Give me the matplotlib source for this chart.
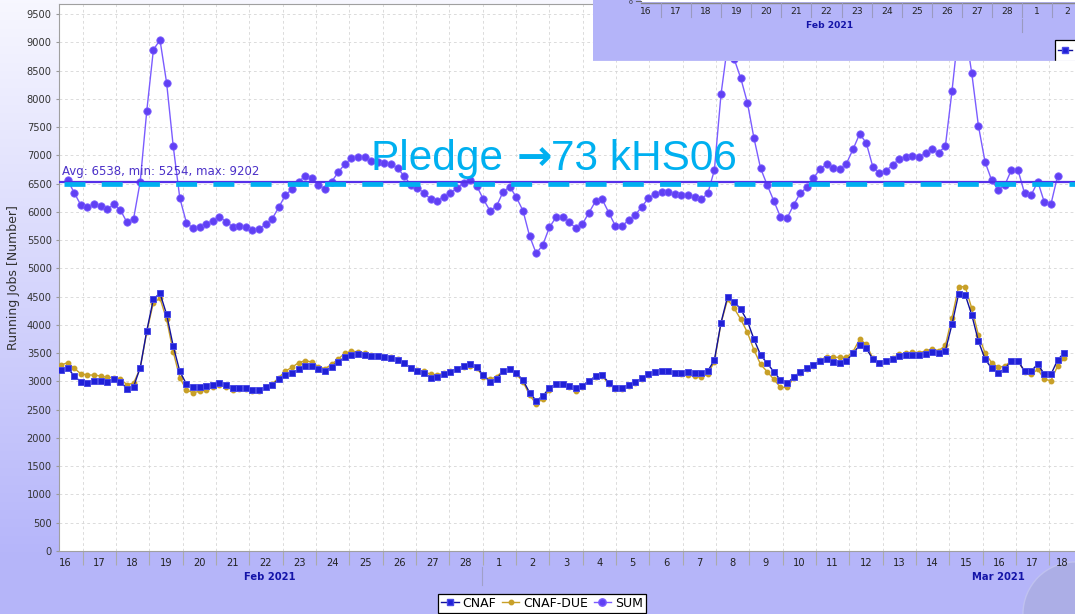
import numpy as np
import matplotlib
matplotlib.use('Agg')
import matplotlib.pyplot as plt
from matplotlib.lines import Line2D
from matplotlib.patches import Rectangle, Circle

plt.rcParams['lines.scale_dashes'] = False

W, H = 1075, 614

# running jobs per time bin
cnaf = [3203, 3232, 3103, 2990, 2973, 3008, 3008, 2996, 3038, 2996,
        2872, 2908, 3244, 3899, 4459, 4560, 4188, 3628, 3179, 2955,
        2902, 2902, 2914, 2937, 2967, 2937, 2884, 2878, 2878, 2849,
        2849, 2896, 2943, 3038, 3114, 3144, 3215, 3274, 3274, 3226,
        3191, 3262, 3350, 3427, 3468, 3480, 3474, 3451, 3445, 3439,
        3421, 3380,
        3321, 3244, 3191, 3144, 3067, 3073, 3126, 3173, 3215, 3280,
        3303, 3250, 3108, 2996, 3044, 3185, 3221, 3144, 3026, 2802,
        2660, 2743, 2884, 2961, 2961, 2920, 2878, 2926, 3014, 3091,
        3114, 2979, 2890, 2890, 2932, 2985, 3055, 3126, 3173, 3191,
        3191, 3144, 3144, 3167, 3156, 3144, 3185, 3380, 4040, 4501,
        4412, 4276, 4070, 3746, 3468, 3321, 3173, 3026, 2967, 3073,
        3173, 3232, 3286, 3368, 3392, 3350, 3321, 3368, 3498, 3639,
        3586, 3398, 3333, 3356, 3403, 3451, 3468, 3462, 3462, 3486,
        3521, 3498, 3545, 4011, 4548, 4536, 4176, 3716, 3398, 3232,
        3156, 3226, 3362, 3362, 3185, 3185, 3309, 3126, 3126, 3380,
        3510]

cnaf_due = [3291, 3333, 3232, 3138, 3114, 3114, 3097, 3073, 3067, 3044,
            2943, 2973, 3232, 3881, 4395, 4471, 4100, 3527, 3067, 2849,
            2802, 2825, 2849, 2896, 2937, 2908, 2849, 2867, 2867, 2837,
            2837, 2908, 2955, 3067, 3185, 3250, 3333, 3368, 3345, 3262,
            3226, 3303, 3398, 3498, 3533, 3527, 3504, 3468, 3445, 3439,
            3433, 3392,
            3321, 3244, 3203, 3179, 3126, 3120, 3144, 3179, 3226, 3262,
            3274, 3232, 3085, 3038, 3085, 3191, 3215, 3126, 2996, 2760,
            2601, 2696, 2849, 2949, 2949, 2896, 2837, 2908, 3008, 3085,
            3097, 2955, 2861, 2861, 2920, 2979, 3050, 3120, 3167, 3185,
            3185, 3144, 3126, 3114, 3097, 3073, 3132, 3350, 4029, 4453,
            4294, 4099, 3869, 3557, 3303, 3173, 3038, 2896, 2896, 3055,
            3156, 3215, 3274, 3380, 3439, 3427, 3427, 3427, 3527, 3746,
            3663, 3409, 3333, 3356, 3415, 3486, 3498, 3521, 3510, 3539,
            3575, 3545, 3639, 4129, 4678, 4678, 4294, 3822, 3510, 3333,
            3250, 3274, 3362, 3362, 3173, 3126, 3215, 3038, 3014, 3274,
            3409]

# SUM starts at the second bin and stops one bin early
sum_jobs = [6565, 6341, 6123, 6081, 6140, 6105, 6046, 6135, 6034, 5816,
            5881, 6536, 7792, 8871, 9043, 8287, 7167, 6247, 5810, 5710,
            5728, 5781, 5846, 5916, 5828, 5739, 5751, 5739, 5680, 5698,
            5781, 5881, 6081, 6300, 6400, 6536, 6636, 6595, 6477, 6406,
            6536, 6701, 6848, 6949, 6978, 6966, 6907, 6884, 6872, 6848,
            6772,
            6636, 6477, 6418, 6341, 6223, 6199, 6270, 6341, 6418, 6518,
            6565, 6459, 6223, 6022, 6105, 6359, 6447, 6258, 6022, 5574,
            5267, 5415, 5728, 5904, 5904, 5828, 5710, 5787, 5987, 6193,
            6223, 5987, 5751, 5751, 5857, 5946, 6093, 6241, 6317, 6359,
            6359, 6317, 6300, 6300, 6270, 6223, 6329, 6742,
            8080, 8954, 8706,
            8365, 7934, 7303, 6772, 6477, 6194, 5916, 5887, 6123, 6330,
            6436, 6595, 6760, 6843, 6772, 6760, 6854, 7108, 7379, 7226,
            6801, 6683, 6731, 6831, 6937, 6972, 6990, 6978, 7037, 7108,
            7049, 7167, 8140, 9226, 9214, 8453, 7527, 6890, 6565, 6388,
            6477, 6742, 6742, 6330, 6300, 6536, 6170, 6141, 6636]

day_labels = ['16', '17', '18', '19', '20', '21', '22', '23', '24', '25', '26', '27', '28',
              '1', '2', '3', '4', '5', '6', '7', '8', '9', '10', '11', '12', '13', '14',
              '15', '16', '17', '18']
inset_day_labels = ['16', '17', '18', '19', '20', '21', '22', '23', '24', '25', '26',
                    '27', '28', '1', '2']
avg_jobs, min_jobs, max_jobs = 6538, 5254, 9202
pledge = 6500

# time axis: days since 16 Feb 00:00
t0, dt = 0.351, 0.198
t = t0 + dt * np.arange(len(cnaf))
t_sum = t[1:1 + len(sum_jobs)]


def day(px):
    # screen x pixel -> day coordinate of the main chart
    return (px - 49.3) / 33.333


fig = plt.figure(figsize=(W / 100, H / 100), dpi=100)

# lavender page background
bg = fig.add_axes([0, 0, 1, 1], zorder=-10)
rows = np.clip(np.arange(H) / 560, 0, 1)[:, None, None]
top_c = np.array([0.97, 0.97, 1.0])
bot_c = np.array([0.71, 0.71, 0.98])
bg.imshow(top_c + (bot_c - top_c) * rows * np.ones((1, 2, 1)),
          aspect='auto', extent=[0, W, H, 0])
bg.add_patch(Circle((1075, 614), 52, fc='#a9acdf', ec='#c6c8f0', lw=1, alpha=0.7))
bg.plot([482, 482], [567, 585], color='#a0a0c8', lw=0.8)
bg.set_xlim(0, W)
bg.set_ylim(H, 0)
bg.axis('off')

# main chart
ax = fig.add_axes([58.7 / W, 1 - 551 / H, 1 - 58.7 / W, 547 / H])
ax.set_xlim(day(58.7), day(1075))
ax.set_ylim(0, 9680)
ax.set_facecolor('white')
for s in ['left', 'bottom', 'top']:
    ax.spines[s].set_color('#a0a0a0')
ax.spines['right'].set_visible(False)

ax.set_yticks(np.arange(0, 9501, 500))
ax.set_xticks(np.arange(1, 31))
ax.set_xticklabels([])
label_pos = [day(65.5)] + [d + 0.5 for d in range(1, 30)] + [day(1062)]
ax.set_xticks(label_pos, minor=True)
ax.set_xticklabels(day_labels, minor=True)
ax.grid(True, which='major', color='#d6d6d6', ls=(0, (2, 2)), lw=0.6)
ax.tick_params(axis='y', direction='out', length=2.5, color='#999', labelsize=7.1,
               labelcolor='#333', pad=2.5)
ax.tick_params(axis='x', which='major', direction='out', length=10, color='#aaa', width=0.8)
ax.tick_params(axis='x', which='minor', length=0, pad=5, labelsize=7.1, labelcolor='#222')

ax.plot(t, cnaf_due, color='#c8a028', lw=1, marker='o', ms=3.2, mec='#c8a028', zorder=3)
ax.plot(t, cnaf, color='#10109c', lw=1, marker='s', ms=4.3, mfc='#2020d8', mec='#4a4ae6',
        mew=0.7, zorder=4)
ax.plot(t_sum, sum_jobs, color='#7b5cff', lw=1, marker='o', ms=5.3, mfc='#6040f4',
        mec='#7a5cff', mew=0.6, zorder=5)

ax.axhline(avg_jobs, color='#5530e8', lw=1.6, zorder=6)
ax.text(day(61.7), 6707, f'Avg: {avg_jobs}, min: {min_jobs}, max: {max_jobs}',
        fontsize=8.5, color='#4b30c8', va='center', ha='left', zorder=7)

# pledge annotation
ax.plot([day(64.3), day(1075)], [pledge, pledge], color='#00b0f0', lw=3.4,
        dashes=(15.1, 11.7), dash_capstyle='butt', zorder=8)
renderer = fig.canvas.get_renderer()
base_y = 1 - 170 / H
pl_font = dict(fontsize=30.5, color='#00b0f0', ha='left', va='baseline', zorder=20)
p1 = fig.text(371 / W, base_y, 'Pledge ', family=['Liberation Sans', 'DejaVu Sans'], **pl_font)
x1 = p1.get_window_extent(renderer).x1
p2 = fig.text((x1 + 2) / W, base_y, '\u2192', family='DejaVu Sans', weight='bold', **pl_font)
x2 = p2.get_window_extent(renderer).x1
fig.text((x2 - 1) / W, base_y, '73 kHS06', family=['Liberation Sans', 'DejaVu Sans'], **pl_font)

fig.text(14 / W, 1 - 278 / H, 'Running Jobs [Number]', rotation=90, fontsize=9,
         color='#333', ha='center', va='center')
fig.text(270 / W, 1 - 577 / H, 'Feb 2021', fontsize=7.2, weight='bold', color='#1414a8',
         ha='center', va='center')
fig.text(998 / W, 1 - 577 / H, 'Mar 2021', fontsize=7.2, weight='bold', color='#1414a8',
         ha='center', va='center')

handles = [
    Line2D([], [], color='#10109c', lw=1, marker='s', ms=4.3, mfc='#2020d8', mec='#4a4ae6'),
    Line2D([], [], color='#c8a028', lw=1, marker='o', ms=3.2),
    Line2D([], [], color='#7b5cff', lw=1, marker='o', ms=5.3, mfc='#6040f4', mec='#7a5cff'),
]
leg = fig.legend(handles, ['CNAF', 'CNAF-DUE', 'SUM'], loc='upper left',
                 bbox_to_anchor=(438 / W, 1 - 593.5 / H), ncol=3, fontsize=9,
                 fancybox=False, edgecolor='black', framealpha=1, borderpad=0.25,
                 handlelength=1.4, handletextpad=0.3, columnspacing=0.45, borderaxespad=0)
leg.get_frame().set_linewidth(0.9)

# overlapping window at top right
ins = fig.add_axes([593 / W, 1 - 61 / H, (W - 593) / W, 61 / H], zorder=10)
ins.set_xlim(593, W)
ins.set_ylim(61, 0)
ins.axis('off')
ins.add_patch(Rectangle((593, 0), W - 593, 61, fc='#b4b4f9', ec='none'))
ins.add_patch(Rectangle((641, 0), W - 641, 2.3, fc='white', ec='none'))
ins.plot([641, W], [2.5, 2.5], color='#888', lw=1)
ins.plot([636, 641], [1.2, 1.2], color='#666', lw=0.8)
ins.text(631, 0.3, '0', fontsize=4.5, color='#222', ha='center', va='top')
for i in range(14):
    x = 661 + 30.1 * i
    ins.plot([x, x], [2.5, 17], color='#9a9ac0', lw=0.8)
for i, lab in enumerate(inset_day_labels):
    ins.text(646 + 30.1 * i, 11.7, lab, fontsize=6.6, color='#222', ha='center', va='center')
ins.text(830, 25.7, 'Feb 2021', fontsize=6.6, weight='bold', color='#1414a8',
         ha='center', va='center')
ins.plot([1022.3, 1022.3], [19, 32], color='#9a9ac0', lw=0.8)
ins.add_patch(Rectangle((1054.5, 40), 30, 30, fc='white', ec='black', lw=0.9))
ins.plot([1058, 1072], [50, 50], color='#10109c', lw=1)
ins.plot([1065], [50], marker='s', ms=4.3, mfc='#2020d8', mec='#4a4ae6')
ins.plot([593, W], [60.5, 60.5], color='#dcdcf4', lw=1)

fig.savefig('out.png', dpi=100)
